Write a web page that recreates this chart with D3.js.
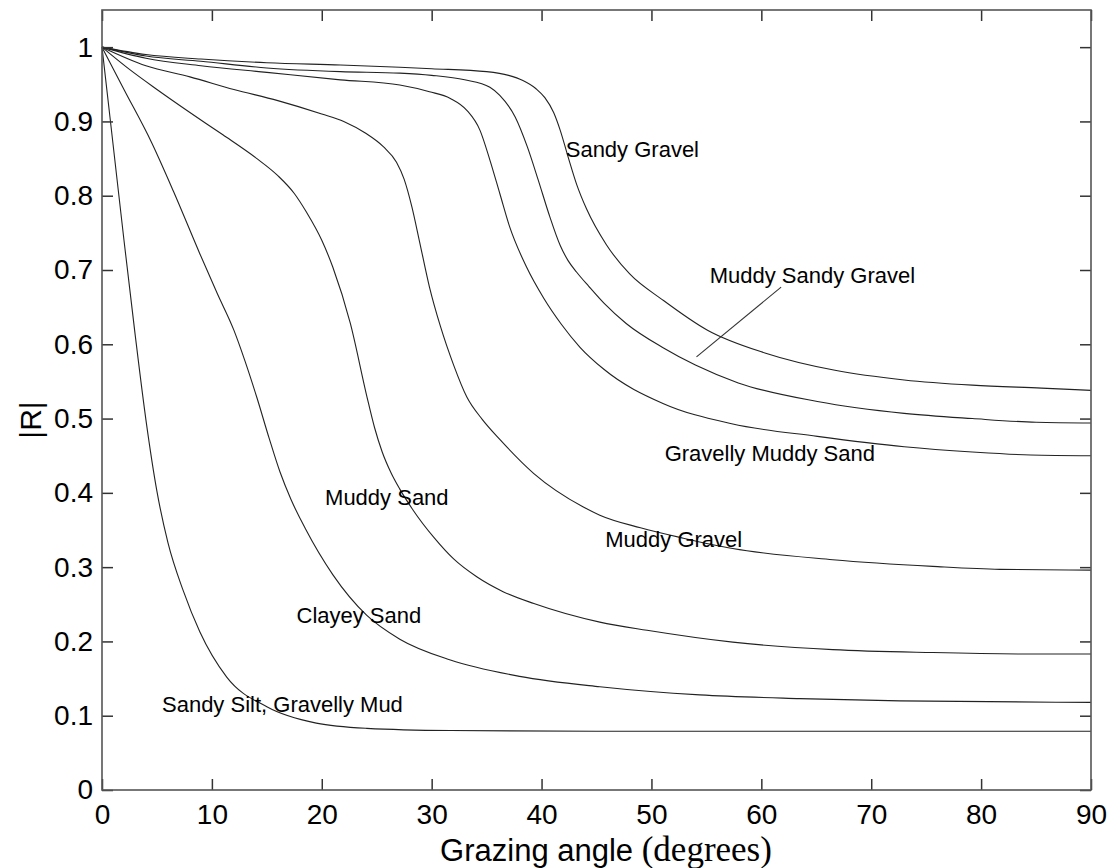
<!DOCTYPE html>
<html>
<head>
<meta charset="utf-8">
<script src="https://cdn.jsdelivr.net/npm/d3@7"></script>
<style>
  html, body { margin: 0; padding: 0; background: #fff; }
  svg { display: block; }
</style>
</head>
<body>
<svg id="chart" width="1115" height="868"></svg>
<script>
// Reflection coefficient magnitude |R| against grazing angle, one curve per sediment type.
// Each series: [grazing angle (deg), |R|]
const sandyGravel = [
  [0, 1], [4, 0.990], [9, 0.984], [15, 0.979], [21.7, 0.976], [27.1, 0.973], [30, 0.971],
  [35, 0.967], [37, 0.962], [38.3, 0.955], [39.5, 0.944], [40.3, 0.932], [41.1, 0.912],
  [41.7, 0.888], [42.4, 0.853], [43.2, 0.815], [44.1, 0.782], [45.9, 0.734], [48, 0.695],
  [51.1, 0.659], [55.1, 0.619], [60.4, 0.588], [66.7, 0.565], [73, 0.552], [79.2, 0.545],
  [85.5, 0.541], [90, 0.538]
];
const muddySandyGravel = [
  [0, 1], [4, 0.988], [9, 0.981], [15, 0.972], [21.7, 0.967], [27.1, 0.965], [30, 0.962],
  [33, 0.956], [35.3, 0.946], [36.2, 0.935], [37.6, 0.906], [38.7, 0.866], [39.7, 0.821],
  [40.7, 0.774], [41.7, 0.733], [42.4, 0.713], [43.2, 0.697], [44.3, 0.678], [45.7, 0.655],
  [47.7, 0.628], [51.1, 0.595], [54, 0.572], [57.9, 0.548], [65.1, 0.523], [73, 0.507],
  [79.2, 0.500], [85, 0.495], [90, 0.494]
];
const gravellyMuddySand = [
  [0, 1], [4, 0.985], [9, 0.975], [15, 0.966], [21.7, 0.956], [27.1, 0.949], [29.8, 0.940],
  [31.7, 0.931], [33.2, 0.915], [34.4, 0.888], [35.3, 0.848], [36.2, 0.803], [37.1, 0.758],
  [38.6, 0.705], [40.2, 0.662], [41.8, 0.627], [43.5, 0.596], [45.7, 0.566], [51.1, 0.520],
  [57.3, 0.493], [65.1, 0.476], [73, 0.462], [79.2, 0.455], [84.5, 0.451], [90, 0.450]
];
const muddyGravel = [
  [0, 1], [4, 0.975], [8, 0.960], [12, 0.943], [16, 0.928], [20, 0.910], [22, 0.900],
  [24, 0.884], [25.6, 0.866], [26.8, 0.845], [27.5, 0.822], [28.2, 0.785], [28.9, 0.738],
  [29.8, 0.677], [30.8, 0.624], [32, 0.572], [33.2, 0.529], [34.6, 0.499], [36.2, 0.472],
  [39.3, 0.426], [43.8, 0.381], [45.3, 0.370], [49, 0.353], [52.9, 0.339], [57.4, 0.325],
  [66.5, 0.310], [75.6, 0.301], [81.7, 0.297], [90, 0.296]
];
const muddySand = [
  [0, 1], [2.5, 0.970], [5, 0.943], [8, 0.912], [11, 0.882], [14, 0.851], [16, 0.827],
  [17.5, 0.803], [18.6, 0.778], [20, 0.740], [21, 0.704], [22.6, 0.628], [24.1, 0.530],
  [24.8, 0.488], [25.5, 0.455], [26.3, 0.427], [27.1, 0.405], [28.3, 0.377], [30.2, 0.340],
  [32, 0.311], [34.1, 0.287], [36.5, 0.267], [39.3, 0.251], [45.3, 0.226], [49.6, 0.215],
  [57.4, 0.199], [66.5, 0.189], [75.6, 0.185], [84.7, 0.183], [90, 0.183]
];
const clayeySand = [
  [0, 1], [2, 0.943], [4.5, 0.872], [6.5, 0.806], [8.9, 0.722], [10.5, 0.668], [12, 0.619],
  [13, 0.578], [14.1, 0.528], [15.2, 0.474], [16.2, 0.428], [17.2, 0.391], [18.5, 0.352],
  [21, 0.290], [24.1, 0.235], [27.1, 0.203], [31.7, 0.175], [38, 0.153], [45.3, 0.139],
  [54.4, 0.128], [63.5, 0.123], [72.6, 0.120], [90, 0.118]
];
const sandySiltGravellyMud = [
  [0, 1], [1, 0.870], [2, 0.740], [3, 0.615], [4, 0.498], [5, 0.402], [6, 0.333],
  [7.4, 0.268], [8.9, 0.213], [11.35, 0.152], [15, 0.112], [19.5, 0.090], [24.1, 0.083],
  [31.7, 0.080], [45, 0.079], [90, 0.079]
];

const seriesList = [
  sandyGravel, muddySandyGravel, gravellyMuddySand, muddyGravel,
  muddySand, clayeySand, sandySiltGravellyMud
];

// Curve labels: [text, angle, |R|] at the text baseline start
const curveLabels = [
  ["Sandy Gravel", 42.2, 0.852],
  ["Muddy Sandy Gravel", 55.3, 0.682],
  ["Gravelly Muddy Sand", 51.2, 0.443],
  ["Muddy Sand", 20.3, 0.384],
  ["Muddy Gravel", 45.8, 0.327],
  ["Clayey Sand", 17.7, 0.225],
  ["Sandy Silt, Gravelly Mud", 5.46, 0.105]
];
// Leader line from the "Muddy Sandy Gravel" label to its curve
const leader = [[61.8, 0.677], [54.1, 0.583]];

const xTicks = [0, 10, 20, 30, 40, 50, 60, 70, 80, 90];
const yTicks = [0, 0.1, 0.2, 0.3, 0.4, 0.5, 0.6, 0.7, 0.8, 0.9, 1];
const yTickLabels = ["0", "0.1", "0.2", "0.3", "0.4", "0.5", "0.6", "0.7", "0.8", "0.9", "1"];

const svg = d3.select("#chart");
const plot = { left: 102, right: 1091, top: 10, bottom: 790 };

const x = d3.scaleLinear().domain([0, 90]).range([plot.left, plot.right]);
const y = d3.scaleLinear().domain([0, 1.05]).range([plot.bottom, plot.top]);

const frameColor = "#555";
const tickLen = 11;
const sansFont = "Arial, 'Liberation Sans', Helvetica, sans-serif";

// Curves
const line = d3.line()
  .x(d => x(d[0]))
  .y(d => y(d[1]))
  .curve(d3.curveMonotoneX);

svg.append("g")
  .selectAll("path")
  .data(seriesList)
  .join("path")
  .attr("d", line)
  .attr("fill", "none")
  .attr("stroke", "#222")
  .attr("stroke-width", 1.1);

// Axes: ticks point inward on all four sides
const bottomAxis = d3.axisBottom(x).tickValues(xTicks).tickSize(-tickLen).tickPadding(14)
  .tickFormat(d3.format("d"));
const topAxis = d3.axisTop(x).tickValues(xTicks).tickSize(-tickLen).tickFormat("");
const leftAxis = d3.axisLeft(y).tickValues(yTicks).tickSize(-tickLen).tickPadding(9)
  .tickFormat((d, i) => yTickLabels[i]);
const rightAxis = d3.axisRight(y).tickValues(yTicks).tickSize(-tickLen).tickFormat("");

function styleAxis(g) {
  g.select(".domain").remove();
  g.selectAll(".tick line").attr("stroke", "#333").attr("stroke-width", 1.5);
  g.selectAll(".tick text")
    .attr("fill", "#000")
    .style("font-family", sansFont)
    .style("font-size", "28px");
}

svg.append("g").attr("transform", `translate(0,${plot.bottom})`).call(bottomAxis).call(styleAxis)
  .selectAll(".tick text").attr("dy", "0.71em");
svg.append("g").attr("transform", `translate(0,${plot.top})`).call(topAxis).call(styleAxis);
svg.append("g").attr("transform", `translate(${plot.left},0)`).call(leftAxis).call(styleAxis);
svg.append("g").attr("transform", `translate(${plot.right},0)`).call(rightAxis).call(styleAxis);

// Frame
svg.append("rect")
  .attr("x", plot.left).attr("y", plot.top)
  .attr("width", plot.right - plot.left).attr("height", plot.bottom - plot.top)
  .attr("fill", "none").attr("stroke", frameColor).attr("stroke-width", 1.6);

// Curve labels
svg.append("g")
  .selectAll("text")
  .data(curveLabels)
  .join("text")
  .attr("x", d => x(d[1]))
  .attr("y", d => y(d[2]))
  .style("font-family", sansFont)
  .style("font-size", "22px")
  .attr("fill", "#000")
  .text(d => d[0]);

svg.append("line")
  .attr("x1", x(leader[0][0])).attr("y1", y(leader[0][1]))
  .attr("x2", x(leader[1][0])).attr("y2", y(leader[1][1]))
  .attr("stroke", "#333").attr("stroke-width", 1.1);

// Axis titles
const xTitle = svg.append("text")
  .attr("x", 606)
  .attr("y", 861)
  .attr("text-anchor", "middle")
  .attr("fill", "#000");
xTitle.append("tspan")
  .style("font-family", sansFont).style("font-size", "31px")
  .text("Grazing angle ");
xTitle.append("tspan")
  .style("font-family", "'Liberation Serif', 'Times New Roman', serif").style("font-size", "35px")
  .text("(degrees)");

svg.append("text")
  .attr("transform", `translate(41,420) rotate(-90)`)
  .attr("text-anchor", "middle")
  .style("font-family", sansFont)
  .style("font-size", "30px")
  .attr("fill", "#000")
  .text("|R|");
</script>
</body>
</html>
